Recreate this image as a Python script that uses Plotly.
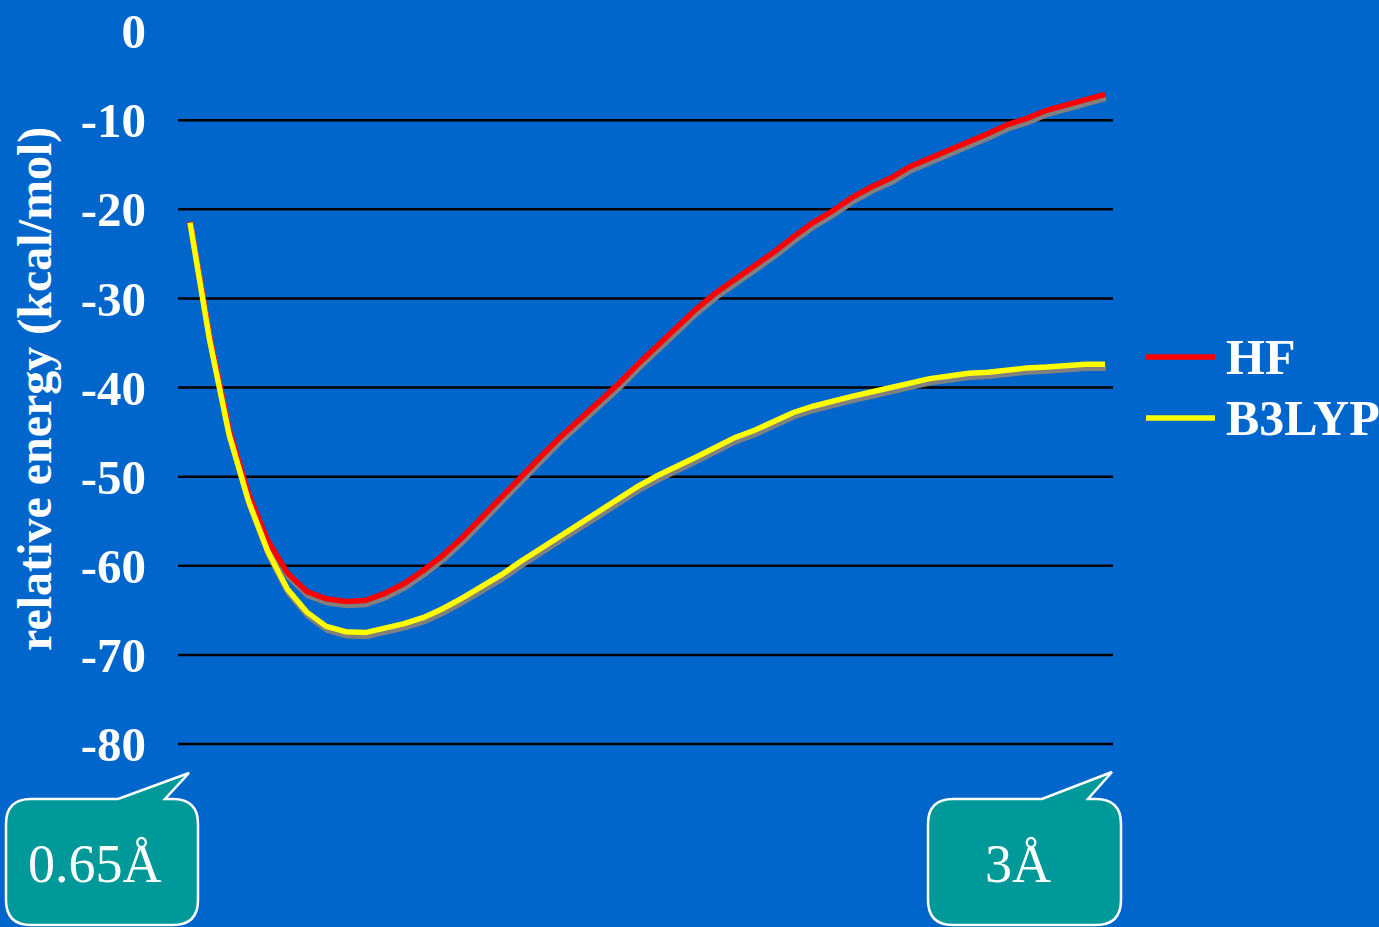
import plotly.graph_objects as go

# ---------------- data ----------------
distance = [0.65, 0.70, 0.75, 0.80, 0.85, 0.90, 0.95, 1.00, 1.05, 1.10,
            1.15, 1.20, 1.25, 1.30, 1.35, 1.40, 1.45, 1.50, 1.55, 1.60,
            1.65, 1.70, 1.75, 1.80, 1.85, 1.90, 1.95, 2.00, 2.05, 2.10,
            2.15, 2.20, 2.25, 2.30, 2.35, 2.40, 2.45, 2.50, 2.55, 2.60,
            2.65, 2.70, 2.75, 2.80, 2.85, 2.90, 2.95, 3.00]

hf = [-21.4, -34.2, -44.6, -51.9, -57.2, -60.8, -62.9, -63.7, -64.0, -63.9,
      -63.1, -62.0, -60.5, -58.8, -56.8, -54.5, -52.2, -50.0, -47.8, -45.6,
      -43.6, -41.7, -39.6, -37.4, -35.3, -33.2, -31.2, -29.4, -27.9, -26.3,
      -24.8, -23.1, -21.5, -20.2, -18.7, -17.5, -16.5, -15.2, -14.3, -13.3,
      -12.4, -11.5, -10.5, -9.8, -8.9, -8.3, -7.7, -7.1]

b3lyp = [-21.5, -34.6, -45.2, -52.7, -58.4, -62.6, -65.2, -66.8, -67.4, -67.5,
         -67.0, -66.5, -65.8, -64.8, -63.6, -62.3, -61.0, -59.5, -58.1, -56.7,
         -55.3, -53.9, -52.6, -51.1, -49.9, -48.9, -47.8, -46.7, -45.6, -44.8,
         -43.8, -42.8, -42.1, -41.5, -41.0, -40.5, -40.0, -39.5, -39.0, -38.7,
         -38.4, -38.3, -38.0, -37.8, -37.7, -37.5, -37.4, -37.4]

series_names = ["HF", "B3LYP"]
series_colors = ["#FF0000", "#FFFF00"]
y_tick_values = [0, -10, -20, -30, -40, -50, -60, -70, -80]
grid_values = [-10, -20, -30, -40, -50, -60, -70, -80]
y_title = "relative energy (kcal/mol)"
callout_labels = ["0.65Å", "3Å"]

# ---------------- layout geometry ----------------
W, H = 1379, 927
SHX, SHY = 1, 4                               # shadow offset in pixels
PL, PR, PT, PB = 178, 1113 + SHX, 31, 744 + SHY   # paper area in pixels
PW, PH = PR - PL, PB - PT
BG = "#0066CC"
TEAL = "#009999"
SERIF = "Liberation Serif, Times New Roman, serif"
LINE_W = 5.5

X_RANGE = [0.65 - 12 / 389.36, 3.0 + 8 / 389.36]
Y_RANGE = [-80, 0]


def px(x):
    return (x - PL) / PW


def py(y):
    return (PB - y) / PH


main_ydom = [SHY / PH, 1]
main_xdom = [0, 1 - SHX / PW]

fig = go.Figure()

# shadows (drawn first, on offset axes)
for vals in (hf, b3lyp):
    fig.add_trace(go.Scatter(x=distance, y=vals, mode="lines",
                             line=dict(color="#808080", width=LINE_W),
                             xaxis="x", yaxis="y", showlegend=False,
                             hoverinfo="skip"))
# main lines
for vals, name, col in zip((hf, b3lyp), series_names, series_colors):
    fig.add_trace(go.Scatter(x=distance, y=vals, mode="lines", name=name,
                             line=dict(color=col, width=LINE_W),
                             xaxis="x2", yaxis="y2", showlegend=False))

shapes = []
# gridlines
for v in grid_values:
    yp = main_ydom[0] + (v - Y_RANGE[0]) / (Y_RANGE[1] - Y_RANGE[0]) * (main_ydom[1] - main_ydom[0])
    shapes.append(dict(type="line", xref="paper", yref="paper",
                       x0=main_xdom[0], x1=main_xdom[1], y0=yp, y1=yp,
                       line=dict(color="black", width=2.5), layer="below"))


def callout_path(l, t, r, b, rad, a, tip, c):
    pts = [
        f"M {px(l + rad)},{py(t)}",
        f"L {px(a)},{py(t)}",
        f"L {px(tip[0])},{py(tip[1])}",
        f"L {px(c)},{py(t)}",
        f"L {px(r - rad)},{py(t)}",
        f"Q {px(r)},{py(t)} {px(r)},{py(t + rad)}",
        f"L {px(r)},{py(b - rad)}",
        f"Q {px(r)},{py(b)} {px(r - rad)},{py(b)}",
        f"L {px(l + rad)},{py(b)}",
        f"Q {px(l)},{py(b)} {px(l)},{py(b - rad)}",
        f"L {px(l)},{py(t + rad)}",
        f"Q {px(l)},{py(t)} {px(l + rad)},{py(t)}",
        "Z",
    ]
    return " ".join(pts)


callouts = [
    dict(l=6, t=799, r=198, b=925, a=118, tip=(189, 773), c=165, tx=95),
    dict(l=928, t=799, r=1121, b=925, a=1042, tip=(1112, 772), c=1088, tx=1018),
]
annotations = []
for co, label in zip(callouts, callout_labels):
    shapes.append(dict(type="path", xref="paper", yref="paper",
                       path=callout_path(co["l"], co["t"], co["r"], co["b"], 25,
                                         co["a"], co["tip"], co["c"]),
                       fillcolor=TEAL, line=dict(color="white", width=2.5),
                       layer="above"))
    annotations.append(dict(xref="paper", yref="paper", x=px(co["tx"]), y=py(864),
                            text=label, showarrow=False, xanchor="center",
                            yanchor="middle",
                            font=dict(family=SERIF, size=54, color="white")))

# manual legend
legend_y = [357, 418]
for name, col, ly in zip(series_names, series_colors, legend_y):
    shapes.append(dict(type="line", xref="paper", yref="paper",
                       x0=px(1146), x1=px(1215), y0=py(ly), y1=py(ly),
                       line=dict(color=col, width=LINE_W)))
    annotations.append(dict(xref="paper", yref="paper", x=px(1224), y=py(ly),
                            text=name, showarrow=False, xanchor="left",
                            yanchor="middle",
                            font=dict(family=SERIF, size=50, color="white",
                                      weight="bold")))

# y-axis title
annotations.append(dict(xref="paper", yref="paper", x=px(35), y=py(389),
                        text=y_title, textangle=-90, showarrow=False,
                        xanchor="center", yanchor="middle",
                        font=dict(family=SERIF, size=48, color="white",
                                  weight="bold")))

fig.update_layout(
    template="none",
    width=W, height=H,
    margin=dict(l=PL, r=W - PR, t=PT, b=H - PB, pad=0, autoexpand=False),
    paper_bgcolor=BG, plot_bgcolor="rgba(0,0,0,0)",
    showlegend=False,
    xaxis=dict(domain=[SHX / PW, 1], range=X_RANGE, visible=False, anchor="y",
               automargin=False),
    yaxis=dict(domain=[0, 1 - SHY / PH], range=Y_RANGE, visible=False, anchor="x",
               automargin=False),
    xaxis2=dict(domain=main_xdom, range=X_RANGE, visible=False, anchor="y2",
                automargin=False),
    yaxis2=dict(domain=main_ydom, range=Y_RANGE, anchor="x2", automargin=False,
                tickvals=y_tick_values, ticktext=[str(v) for v in y_tick_values],
                showgrid=False, zeroline=False, showline=False, ticks="",
                ticklabelstandoff=31,
                tickfont=dict(family=SERIF, size=49, color="white", weight="bold")),
    shapes=shapes,
    annotations=annotations,
)

fig.write_html("out.html")
